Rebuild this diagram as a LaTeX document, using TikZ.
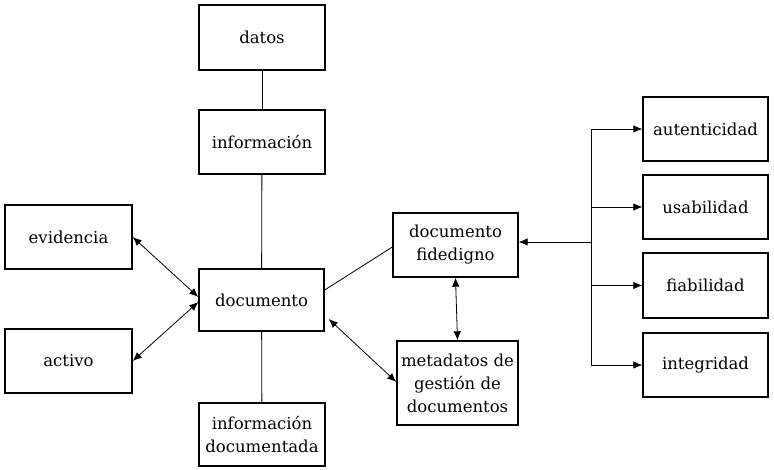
\documentclass[tikz,border=0pt]{standalone}
\usepackage{fontspec}
\setmainfont{DejaVu Serif}
\usetikzlibrary{arrows.meta,calc}
\begin{document}
\begin{tikzpicture}[x=1pt,y=-1pt,
  box/.style={draw,line width=1.4pt,minimum width=#1,inner sep=0pt,align=center,font=\fontsize{16.5}{23}\selectfont,text=black},
  box/.default=126pt,
  conn/.style={line width=0.8pt},
  arr/.style={conn,-{Latex[length=9pt,width=7.5pt]}},
  darr/.style={conn,{Latex[length=9pt,width=7.5pt]}-{Latex[length=9pt,width=7.5pt]}}]
\useasboundingbox (0,0) rectangle (774,470);
\node[box,minimum height=65pt] (datos) at (262,37.5) {datos};
\node[box,minimum height=64pt] (info) at (262,142) {información};
\node[box=125pt,minimum height=62pt] (doc) at (261.5,300) {documento};
\node[box=127pt,minimum height=64pt] (evid) at (68.5,237) {evidencia};
\node[box=127pt,minimum height=64pt] (act) at (68.5,361) {activo};
\node[box,minimum height=63pt] (idoc) at (262,434.5) {información\\documentada};
\node[box=121pt,minimum height=84pt] (meta) at (457.5,383) {metadatos de\\gestión de\\documentos};
\node[box=125pt,minimum height=64pt] (fid) at (455.5,245) {documento\\fidedigno};
\node[box=125pt,minimum height=64pt] (aut) at (705.5,129) {autenticidad};
\node[box=125pt,minimum height=64pt] (usa) at (705.5,207) {usabilidad};
\node[box=125pt,minimum height=65pt] (fia) at (705.5,285.5) {fiabilidad};
\node[box=125pt,minimum height=64pt] (int) at (705.5,365) {integridad};
\coordinate (br) at (591,242);
\draw[conn] (datos) -- (info);
\draw[conn] (info) -- (doc);
\draw[conn] (doc) -- (idoc);
\draw[darr] (evid.east) -- ([yshift=3pt]doc.west);
\draw[darr] (act.east) -- ([yshift=-2pt]doc.west);
\draw[conn] ([yshift=10pt]doc.east) -- ([yshift=-2pt]fid.west);
\draw[darr] ([xshift=4pt,yshift=-19pt]doc.east) -- ([yshift=1pt]meta.west);
\draw[darr] (fid.south) -- (meta.north);
\draw[arr] (br) -- (br -| fid.east);
\draw[conn] (br |- aut) -- (br |- int);
\draw[arr] (br |- aut) -- (aut.west);
\draw[arr] (br |- usa) -- (usa.west);
\draw[arr] (br |- fia) -- (fia.west);
\draw[arr] (br |- int) -- (int.west);
\end{tikzpicture}
\end{document}
